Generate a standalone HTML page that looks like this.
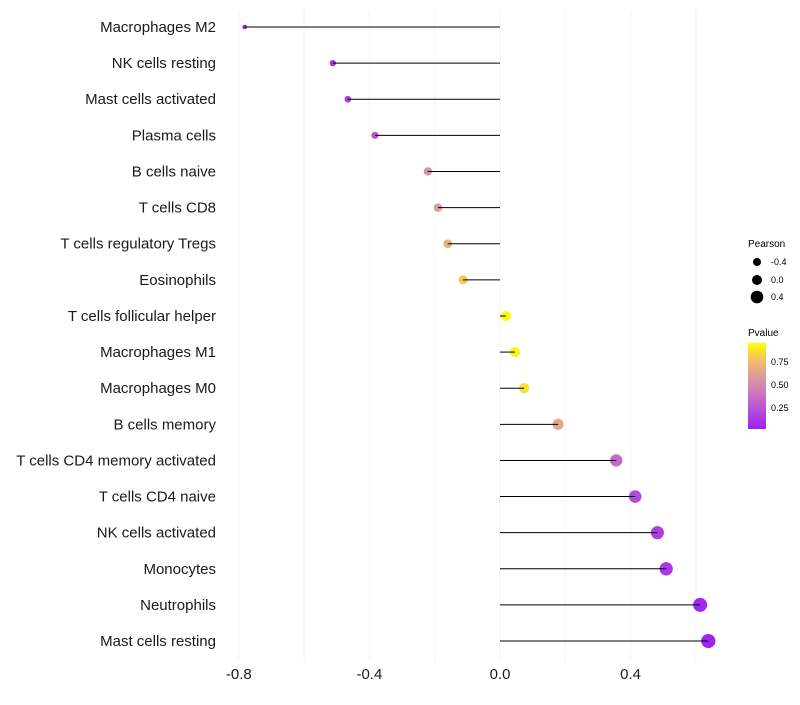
<!DOCTYPE html>
<html><head><meta charset="utf-8"><style>
body{margin:0;background:#fff;font-family:"Liberation Sans",sans-serif}
</style></head><body>
<svg id="chart" width="800" height="700" xmlns="http://www.w3.org/2000/svg">
<defs><linearGradient id="pg" x1="0" y1="1" x2="0" y2="0">
<stop offset="0" stop-color="#A020F0"/><stop offset="0.3" stop-color="#C060D0"/><stop offset="0.55" stop-color="#D890A8"/><stop offset="0.8" stop-color="#F5BD6A"/><stop offset="1" stop-color="#FFFF00"/></linearGradient></defs>
<g id="grid"></g><g id="points"></g><g id="marks"></g><g id="labels"></g>
<g font-size="9">
<text x="748" y="247" font-size="10">Pearson</text>
<circle cx="757" cy="262" r="4" fill="#000"/><text x="771" y="265">-0.4</text>
<circle cx="757" cy="280" r="5" fill="#000"/><text x="771" y="283">0.0</text>
<circle cx="757" cy="297" r="6.3" fill="#000"/><text x="771" y="300">0.4</text>
<text x="748" y="336" font-size="10">Pvalue</text>
<rect x="748" y="343" width="18" height="86" fill="url(#pg)"/>
<text x="771" y="365">0.75</text>
<text x="771" y="388">0.50</text>
<text x="771" y="411">0.25</text>
</g>
</svg>
<script>
const categories=["Macrophages M2","NK cells resting","Mast cells activated","Plasma cells","B cells naive","T cells CD8","T cells regulatory  Tregs ","Eosinophils","T cells follicular helper","Macrophages M1","Macrophages M0","B cells memory","T cells CD4 memory activated","T cells CD4 naive","NK cells activated","Monocytes","Neutrophils","Mast cells resting"];
const pearson=[-0.782,-0.512,-0.466,-0.383,-0.221,-0.19,-0.16,-0.113,0.018,0.046,0.074,0.178,0.356,0.414,0.482,0.509,0.613,0.638];
const pvalues=[0.03,0.1,0.15,0.25,0.55,0.6,0.7,0.8,0.95,0.92,0.88,0.65,0.35,0.2,0.15,0.12,0.05,0.03];
const xTicks=[-0.8,-0.4,0.0,0.4];
const ns="http://www.w3.org/2000/svg";
const x=v=>500+v*326.5;
const y=i=>27+i*36.12;
const rad=v=>2.2+(v+0.8)*3.4;
function col(p){const s=[[0,[160,32,240]],[0.3,[192,96,208]],[0.55,[216,144,168]],[0.8,[245,189,106]],[1,[255,255,0]]];
const t=Math.max(0,Math.min(1,(p-0.02)/0.94));for(let k=1;k<s.length;k++){if(t<=s[k][0]){const a=s[k-1],b=s[k],f=(t-a[0])/(b[0]-a[0]);return 'rgb('+a[1].map((c,j)=>Math.round(c+(b[1][j]-c)*f)).join(',')+')';}}return 'rgb(255,255,0)';}
function mk(t,a,p){const e=document.createElementNS(ns,t);for(const k in a)e.setAttribute(k,a[k]);p.appendChild(e);return e;}
const g=document.getElementById('grid'),m=document.getElementById('marks'),pt=document.getElementById('points'),l=document.getElementById('labels');
for(let v=-0.8;v<=0.61;v+=0.2){const gl=mk('line',{x1:x(v),x2:x(v),y1:10,y2:660,stroke:'#f3f3f3','stroke-width':1},g);

}
xTicks.forEach(v=>{const t=mk('text',{x:x(v),y:679,'text-anchor':'middle','font-size':15,fill:'#1a1a1a'},l);t.textContent=v.toFixed(1);

});
categories.forEach((c,i)=>{
const t=mk('text',{x:216,y:y(i)+5,'text-anchor':'end','font-size':15,fill:'#1a1a1a'},l);t.textContent=c;


const d=mk('circle',{cx:x(pearson[i]),cy:y(i),r:rad(pearson[i]),fill:col(pvalues[i])},pt);


const ln=mk('line',{x1:x(0),x2:x(pearson[i]),y1:y(i),y2:y(i),stroke:'#000','stroke-width':1},m);


});
</script>
</body></html>
